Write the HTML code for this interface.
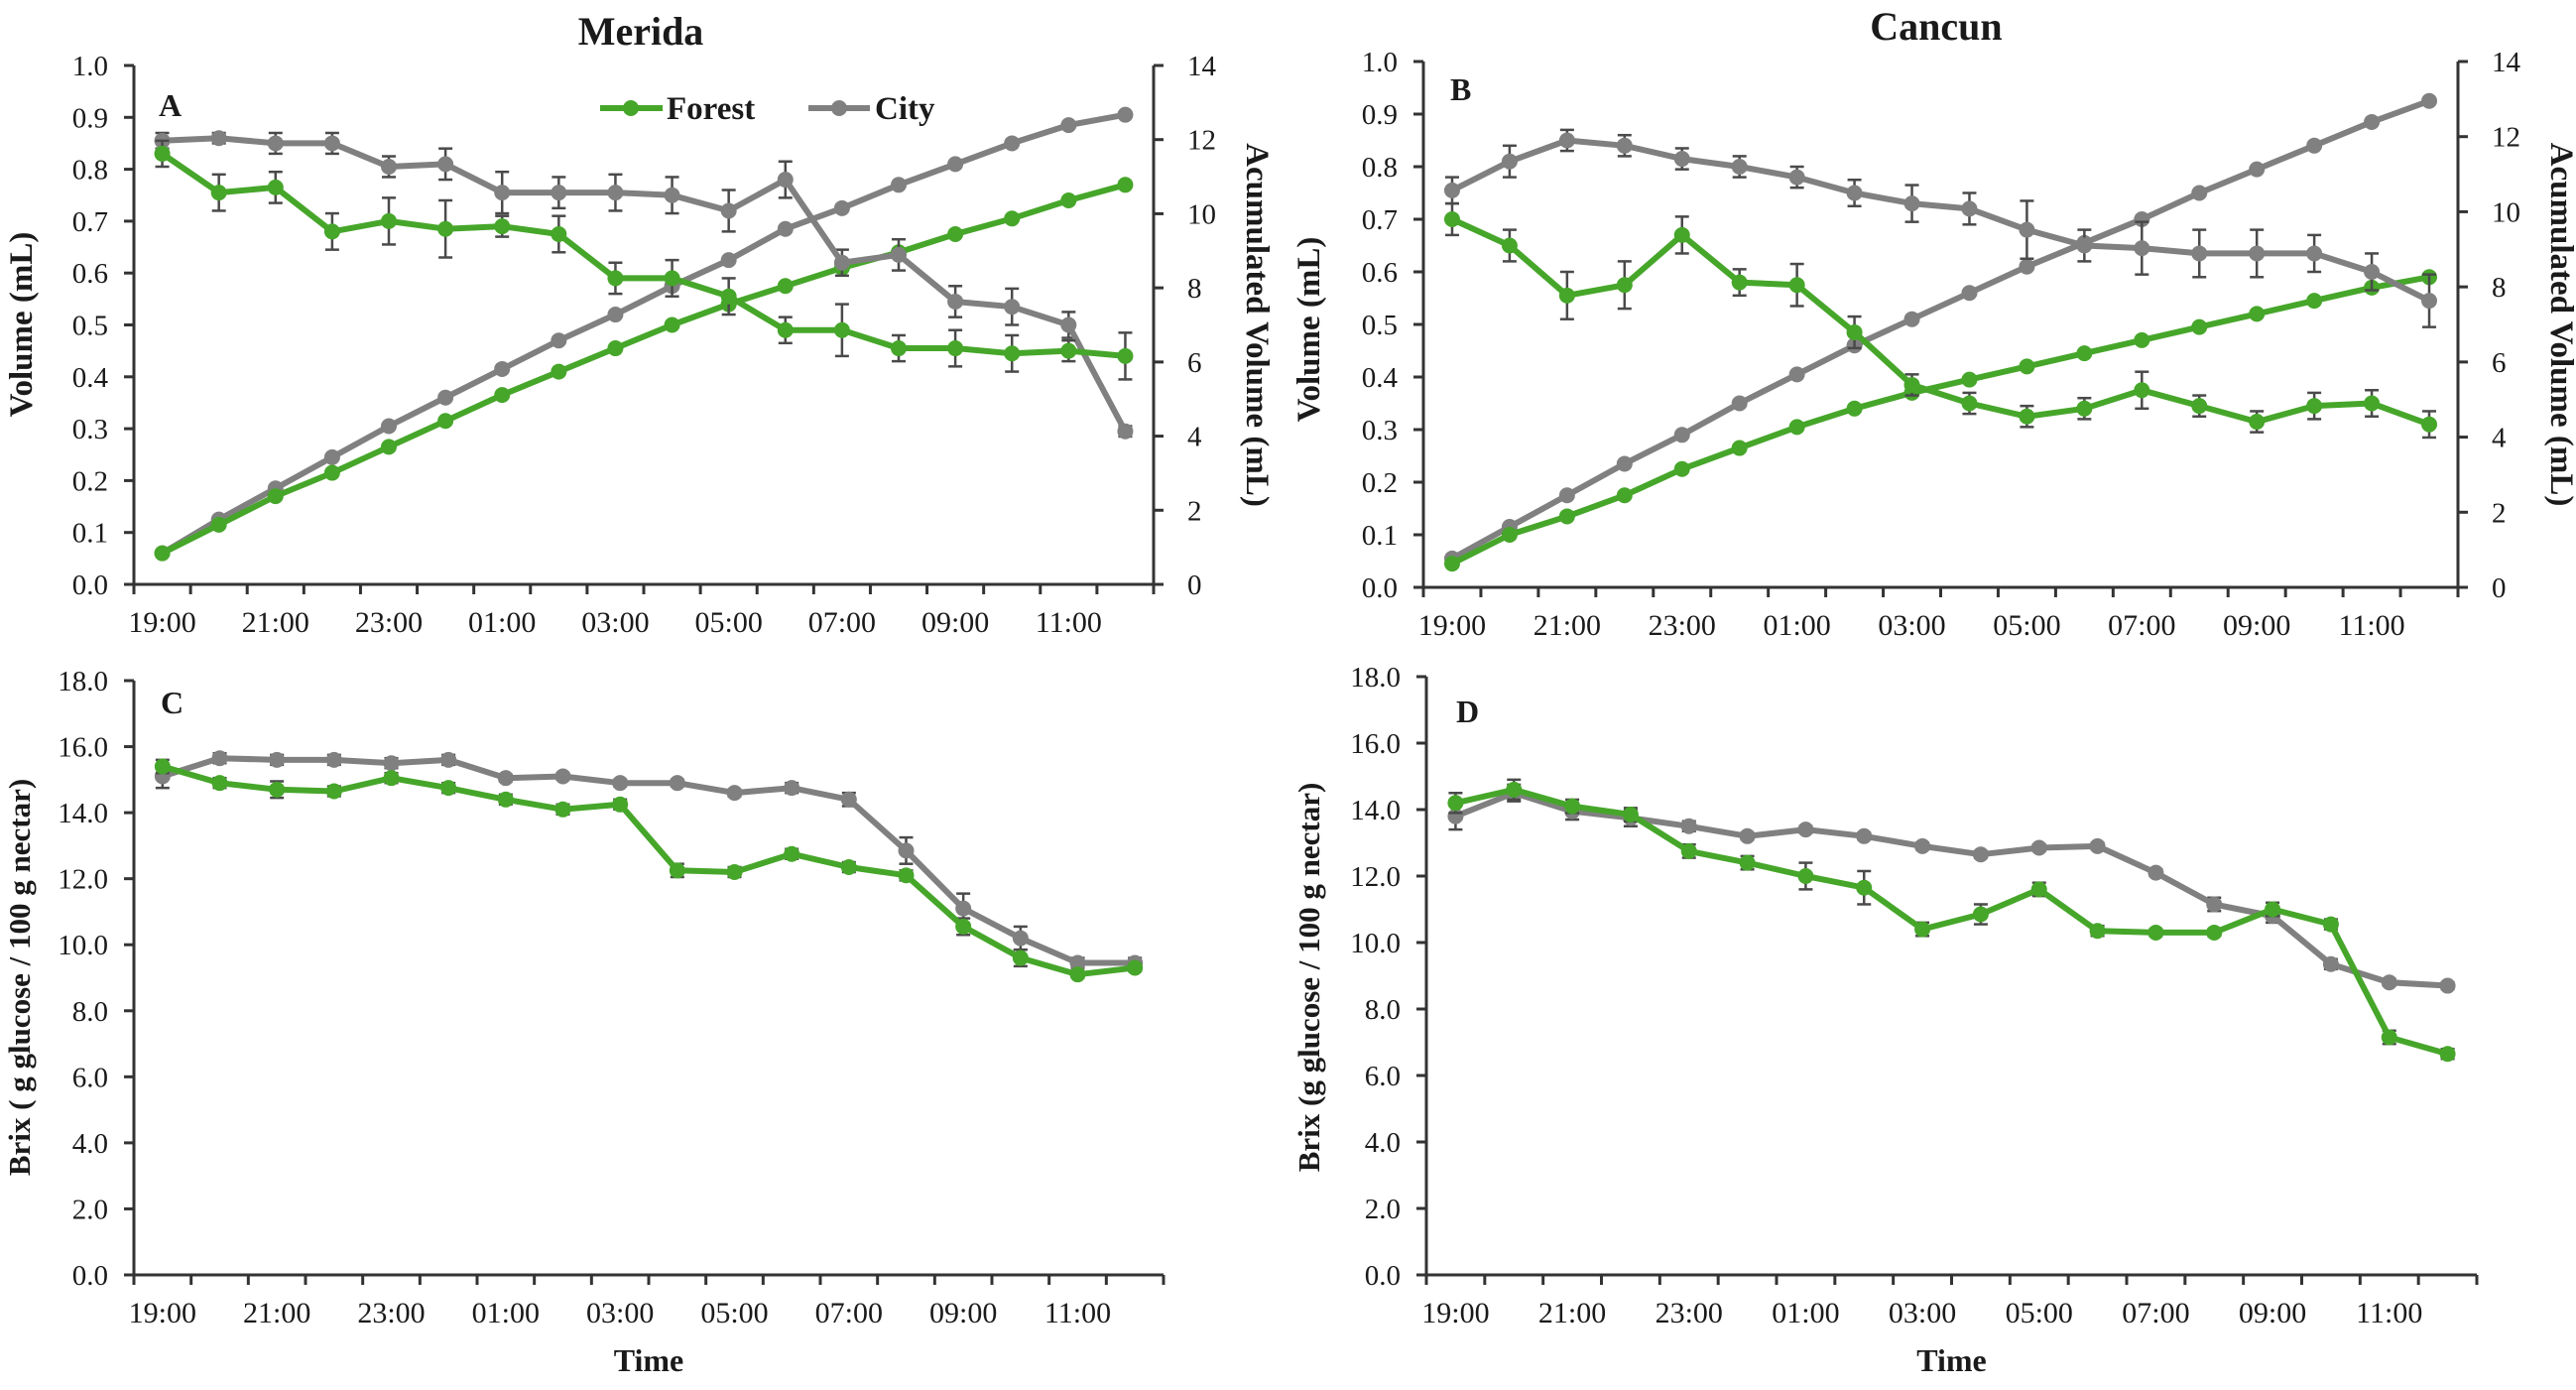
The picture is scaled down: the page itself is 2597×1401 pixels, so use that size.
<!DOCTYPE html>
<html>
<head>
<meta charset="utf-8">
<style>
html,body{margin:0;padding:0;background:#fff;}
svg{display:block;}
text{font-family:"Liberation Serif",serif;fill:#1a1a1a;}
</style>
</head>
<body>
<svg id="fig" width="2597" height="1401" viewBox="0 0 2597 1401" xmlns="http://www.w3.org/2000/svg">
  <text x="646" y="45" font-size="40" font-weight="bold" text-anchor="middle">Merida</text>
  <text x="1952" y="40" font-size="40" font-weight="bold" text-anchor="middle">Cancun</text>
  <g>
    <g>
      <line x1="605" y1="109" x2="668" y2="109" stroke="#46a62a" stroke-width="6"/>
      <circle cx="636" cy="109" r="8" fill="#46a62a"/>
      <text x="672" y="120" font-size="33" font-weight="bold">Forest</text>
    </g>
    <g>
      <line x1="815" y1="109" x2="877" y2="109" stroke="#808080" stroke-width="6"/>
      <circle cx="846" cy="109" r="8" fill="#808080"/>
      <text x="882" y="120" font-size="33" font-weight="bold">City</text>
    </g>
  </g>
</svg>
<script>
// ---- data ----
const timeLabels = ["19:00","21:00","23:00","01:00","03:00","05:00","07:00","09:00","11:00"];
const nCats = 18;

const aForest = [0.83,0.755,0.765,0.68,0.70,0.685,0.69,0.675,0.59,0.59,0.555,0.49,0.49,0.455,0.455,0.445,0.45,0.44];
const aForestErr = [0.025,0.035,0.03,0.035,0.045,0.055,0.02,0.035,0.03,0.035,0.035,0.025,0.05,0.025,0.035,0.035,0.02,0.045];
const aCity = [0.855,0.86,0.85,0.85,0.805,0.81,0.755,0.755,0.755,0.75,0.72,0.78,0.62,0.635,0.545,0.535,0.50,0.295];
const aCityErr = [0.015,0.01,0.02,0.02,0.02,0.03,0.04,0.03,0.035,0.035,0.04,0.035,0.025,0.03,0.03,0.035,0.025,0.01];
const aForestAcc = [0.84,1.61,2.38,3.01,3.71,4.41,5.11,5.74,6.37,7.0,7.56,8.05,8.54,8.96,9.45,9.87,10.36,10.78];
const aCityAcc = [0.84,1.75,2.59,3.43,4.27,5.04,5.81,6.58,7.28,8.05,8.75,9.59,10.15,10.78,11.34,11.9,12.39,12.67];

const bForest = [0.70,0.65,0.555,0.575,0.67,0.58,0.575,0.485,0.385,0.35,0.325,0.34,0.375,0.345,0.315,0.345,0.35,0.31];
const bForestErr = [0.03,0.03,0.045,0.045,0.035,0.025,0.04,0.03,0.02,0.02,0.02,0.02,0.035,0.02,0.02,0.025,0.025,0.025];
const bCity = [0.755,0.81,0.85,0.84,0.815,0.80,0.78,0.75,0.73,0.72,0.68,0.65,0.645,0.635,0.635,0.635,0.60,0.545];
const bCityErr = [0.025,0.03,0.02,0.02,0.02,0.02,0.02,0.025,0.035,0.03,0.055,0.03,0.05,0.045,0.045,0.035,0.035,0.05];
const bForestAcc = [0.63,1.4,1.89,2.45,3.15,3.71,4.27,4.76,5.18,5.53,5.88,6.23,6.58,6.93,7.28,7.63,7.98,8.26];
const bCityAcc = [0.77,1.61,2.45,3.29,4.06,4.9,5.67,6.44,7.14,7.84,8.54,9.17,9.8,10.5,11.13,11.76,12.39,12.95];

const cForest = [15.4,14.9,14.7,14.65,15.05,14.75,14.4,14.1,14.25,12.25,12.2,12.75,12.35,12.1,10.55,9.6,9.1,9.3];
const cForestErr = [0.2,0.15,0.25,0.15,0.15,0.15,0.15,0.15,0.15,0.2,0.15,0.15,0.15,0.15,0.25,0.25,0.1,0.1];
const cCity = [15.1,15.65,15.6,15.6,15.5,15.6,15.05,15.1,14.9,14.9,14.6,14.75,14.4,12.85,11.1,10.2,9.45,9.45];
const cCityErr = [0.35,0.15,0.15,0.15,0.15,0.15,0.1,0.1,0.1,0.1,0.1,0.15,0.2,0.4,0.45,0.35,0.15,0.15];

const dForest = [14.2,14.6,14.1,13.85,12.75,12.4,12.0,11.65,10.4,10.85,11.6,10.35,10.3,10.3,11.0,10.55,7.15,6.65];
const dForestErr = [0.3,0.3,0.2,0.2,0.2,0.2,0.4,0.5,0.2,0.3,0.2,0.15,0.1,0.1,0.2,0.15,0.2,0.15];
const dCity = [13.8,14.5,13.95,13.75,13.5,13.2,13.4,13.2,12.9,12.65,12.85,12.9,12.1,11.15,10.8,9.35,8.8,8.7];
const dCityErr = [0.4,0.25,0.25,0.25,0.15,0.1,0.1,0.1,0.1,0.1,0.1,0.1,0.1,0.2,0.2,0.15,0.1,0.1];

const volTicks = ["0.0","0.1","0.2","0.3","0.4","0.5","0.6","0.7","0.8","0.9","1.0"];
const accTicks = ["0","2","4","6","8","10","12","14"];
const brixTicks = ["0.0","2.0","4.0","6.0","8.0","10.0","12.0","14.0","16.0","18.0"];

const GREEN = "#46a62a", GRAY = "#808080", AX = "#333";
const NS = "http://www.w3.org/2000/svg";
const svg = document.getElementById("fig");

function mk(tag, attrs, parent){
  const e = document.createElementNS(NS, tag);
  for (const k in attrs) e.setAttribute(k, attrs[k]);
  (parent || svg).appendChild(e);
  return e;
}

function panel(cfg){
  const g = mk("g", {});
  
  
  const cw = (cfg.x1 - cfg.x0) / nCats;
  const xOf = i => cfg.x0 + cw * (i + 0.5);
  const yOf = v => cfg.yb - (v - cfg.ymin) / (cfg.ymax - cfg.ymin) * (cfg.yb - cfg.yt);
  const yR = v => cfg.yb - v / cfg.rmax * (cfg.yb - cfg.yt);

  // left axis
  const la = mk("line", {x1:cfg.x0, y1:cfg.yt, x2:cfg.x0, y2:cfg.yb, stroke:AX, "stroke-width":3}, g);
  
  
  cfg.yticks.forEach((t, k) => {
    const v = parseFloat(t);
    const y = yOf(v);
    mk("line", {x1:cfg.x0 - 10, y1:y, x2:cfg.x0, y2:y, stroke:AX, "stroke-width":3}, g);
    const tx = mk("text", {x:cfg.x0 - 26, y:y + 10, "font-size":29, "text-anchor":"end"}, g);
    
    
    tx.textContent = t;
  });
  // x axis
  const xa = mk("line", {x1:cfg.x0, y1:cfg.yb, x2:cfg.x1, y2:cfg.yb, stroke:AX, "stroke-width":3}, g);
  
  
  for (let i = 0; i <= nCats; i++) {
    const x = cfg.x0 + cw * i;
    mk("line", {x1:x, y1:cfg.yb, x2:x, y2:cfg.yb + 10, stroke:AX, "stroke-width":3}, g);
  }
  timeLabels.forEach((t, k) => {
    const tx = mk("text", {x:xOf(k * 2), y:cfg.yb + 48, "font-size":30, "text-anchor":"middle"}, g);
    
    
    tx.textContent = t;
  });
  // right axis
  if (cfg.right) {
    const ra = mk("line", {x1:cfg.x1, y1:cfg.yt, x2:cfg.x1, y2:cfg.yb, stroke:AX, "stroke-width":3}, g);
    
    
    accTicks.forEach(t => {
      const y = yR(parseFloat(t));
      mk("line", {x1:cfg.x1, y1:y, x2:cfg.x1 + 10, y2:y, stroke:AX, "stroke-width":3}, g);
      const tx = mk("text", {x:cfg.x1 + 34, y:y + 10, "font-size":29}, g);
      
      
      tx.textContent = t;
    });
    const rt = mk("text", {x:0, y:0, "font-size":33, "font-weight":"bold", "text-anchor":"middle",
      transform:`translate(${cfg.rtx},${(cfg.yt + cfg.yb) / 2}) rotate(90)`}, g);
    
    
    rt.textContent = "Acumulated Volume (mL)";
  }
  // left title
  const lt = mk("text", {x:0, y:0, "font-size":cfg.ltSize, "font-weight":"bold", "text-anchor":"middle",
    transform:`translate(${cfg.ltx},${cfg.lty}) rotate(-90)`}, g);
  
  
  lt.textContent = cfg.ltitle;
  // panel letter
  const pl = mk("text", {x:cfg.lx, y:cfg.ly, "font-size":32, "font-weight":"bold"}, g);
  
  
  pl.textContent = cfg.letter;
  if (cfg.xtitle) {
    const xt = mk("text", {x:(cfg.x0 + cfg.x1) / 2, y:cfg.yb + 97, "font-size":32, "font-weight":"bold", "text-anchor":"middle"}, g);
    
    
    xt.textContent = "Time";
  }

  function series(vals, errs, color, yf, nm) {
    const sg = mk("g", {}, g);
    
    
    if (errs) {
      vals.forEach((v, i) => {
        const x = xOf(i), yt = yf(v + errs[i]), yb = yf(v - errs[i]);
        mk("line", {x1:x, y1:yt, x2:x, y2:yb, stroke:"#4a4a4a", "stroke-width":2.5}, sg);
        mk("line", {x1:x - 7, y1:yt, x2:x + 7, y2:yt, stroke:"#4a4a4a", "stroke-width":2.5}, sg);
        mk("line", {x1:x - 7, y1:yb, x2:x + 7, y2:yb, stroke:"#4a4a4a", "stroke-width":2.5}, sg);
      });
    }
    const pts = vals.map((v, i) => xOf(i).toFixed(1) + "," + yf(v).toFixed(1)).join(" ");
    const pl = mk("polyline", {points:pts, fill:"none", stroke:color, "stroke-width":6, "stroke-linejoin":"round"}, sg);
    
    
    vals.forEach((v, i) => {
      const c = mk("circle", {cx:xOf(i), cy:yf(v), r:8, fill:color}, sg);
      
      
    });
  }
  if (cfg.acc) {
    series(cfg.acc[0], null, GRAY, yR, "city-accumulated");
    series(cfg.acc[1], null, GREEN, yR, "forest-accumulated");
  }
  series(cfg.city, cfg.cityErr, GRAY, yOf, "city-series");
  series(cfg.forest, cfg.forestErr, GREEN, yOf, "forest-series");
}

panel({name:"panel-a", letter:"A", x0:135, x1:1163, yt:66, yb:589, ymin:0, ymax:1, yticks:volTicks,
  right:true, rmax:14, rtx:1257, ltitle:"Volume (mL)", ltSize:33, ltx:32, lty:327, lx:160, ly:117,
  forest:aForest, forestErr:aForestErr, city:aCity, cityErr:aCityErr, acc:[aCityAcc, aForestAcc]});
panel({name:"panel-b", letter:"B", x0:1435, x1:2478, yt:62, yb:592, ymin:0, ymax:1, yticks:volTicks,
  right:true, rmax:14, rtx:2572, ltitle:"Volume (mL)", ltSize:33, ltx:1330, lty:332, lx:1462, ly:101,
  forest:bForest, forestErr:bForestErr, city:bCity, cityErr:bCityErr, acc:[bCityAcc, bForestAcc]});
panel({name:"panel-c", letter:"C", x0:135, x1:1173, yt:686, yb:1285, ymin:0, ymax:18, yticks:brixTicks,
  right:false, ltitle:"Brix ( g glucose / 100 g nectar)", ltSize:31, ltx:30, lty:985, lx:162, ly:719, xtitle:true,
  forest:cForest, forestErr:cForestErr, city:cCity, cityErr:cCityErr});
panel({name:"panel-d", letter:"D", x0:1438, x1:2497, yt:682, yb:1285, ymin:0, ymax:18, yticks:brixTicks,
  right:false, ltitle:"Brix (g glucose / 100 g nectar)", ltSize:31, ltx:1330, lty:985, lx:1468, ly:728, xtitle:true,
  forest:dForest, forestErr:dForestErr, city:dCity, cityErr:dCityErr});
</script>
</body>
</html>
